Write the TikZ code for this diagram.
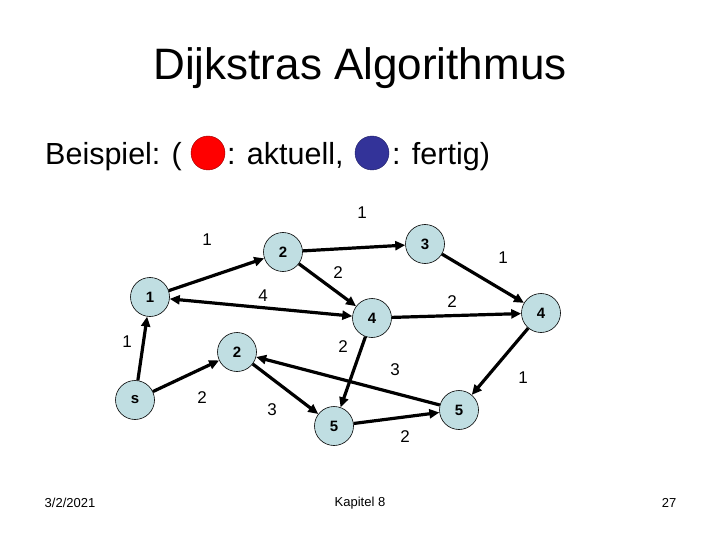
\documentclass[tikz,border=0pt]{standalone}
\usepackage{fontspec}
\setmainfont{Liberation Sans}
\usetikzlibrary{arrows.meta}
\definecolor{nodefill}{RGB}{192,222,226}
\definecolor{mred}{RGB}{255,0,0}
\definecolor{mblue}{RGB}{51,51,153}
\tikzset{
  vtx/.style={circle,draw=black,line width=0.6pt,fill=nodefill,minimum size=39pt,inner sep=0pt,font=\fontsize{15}{15}\selectfont\bfseries},
  edge/.style={line width=3.2pt,-{Triangle[length=10pt,width=9pt]}},
  dedge/.style={line width=3.2pt,{Triangle[length=10pt,width=9pt]}-{Triangle[length=10pt,width=9pt]}},
  wt/.style={font=\fontsize{17}{17}\selectfont,inner sep=0pt},
  foot/.style={font=\fontsize{13}{13}\selectfont,inner sep=0pt},
  big/.style={font=\fontsize{30.5}{30.5}\selectfont,anchor=base west,inner sep=0pt}
}
\begin{document}
\begin{tikzpicture}[x=1pt,y=-1pt]
\useasboundingbox (0,0) rectangle (720,540);
\node[font=\fontsize{44}{44}\selectfont] (title) at (360,68) {Dijkstras Algorithmus};
\node[big] (bsp) at (45,165) {Beispiel: (};
\node[circle,fill=mred,draw={rgb,255:red,150;green,0;blue,0},minimum size=34pt,inner sep=0pt] (red) at (208,153) {};
\node[big] (akt) at (227,165) {: aktuell,};
\node[circle,fill=mblue,draw={rgb,255:red,30;green,30;blue,100},minimum size=34pt,inner sep=0pt] (blue) at (372,153) {};
\node[big] (fert) at (392,165) {: fertig)};

\node[vtx] (n1) at (150,297) {1};
\node[vtx] (n2u) at (283,252) {2};
\node[vtx] (n3) at (425,244) {3};
\node[vtx] (n4) at (541,313) {4};
\node[vtx] (nm) at (372,318) {4};
\node[vtx] (n2l) at (237,352) {2};
\node[vtx] (s) at (135,400) {s};
\node[vtx] (nbl) at (334,426) {5};
\node[vtx] (nbr) at (459,410) {5};

\draw[edge] (s) -- (n1);
\draw[edge] (s) -- (n2l);
\draw[edge] (n1) -- (n2u);
\draw[edge] (n2u) -- (n3);
\draw[edge] (n2u) -- (nm);
\draw[dedge] (nm) -- (n1);
\draw[edge] (n3) -- (n4);
\draw[edge] (nm) -- (n4);
\draw[edge] (nm) -- (nbl);
\draw[edge] (nbr) -- (n2l);
\draw[edge] (n2l) -- (nbl);
\draw[edge] (n4) -- (nbr);
\draw[edge] (nbl) -- (nbr);

\node[wt] (w1) at (127,342) {1};
\node[wt] (w2) at (202,398) {2};
\node[wt] (w3) at (207,240) {1};
\node[wt] (w4) at (362,213) {1};
\node[wt] (w5) at (338,273) {2};
\node[wt] (w6) at (263,296) {4};
\node[wt] (w7) at (503,258) {1};
\node[wt] (w8) at (452,302) {2};
\node[wt] (w9) at (343,347) {2};
\node[wt] (w10) at (395,370) {3};
\node[wt] (w11) at (272,410) {3};
\node[wt] (w12) at (523,378) {1};
\node[wt] (w13) at (405,437) {2};

\node[foot] (date) at (70,503) {3/2/2021};
\node[foot] (kap) at (360,503) {Kapitel 8};
\node[foot] (page) at (669,503) {27};
\end{tikzpicture}
\end{document}
